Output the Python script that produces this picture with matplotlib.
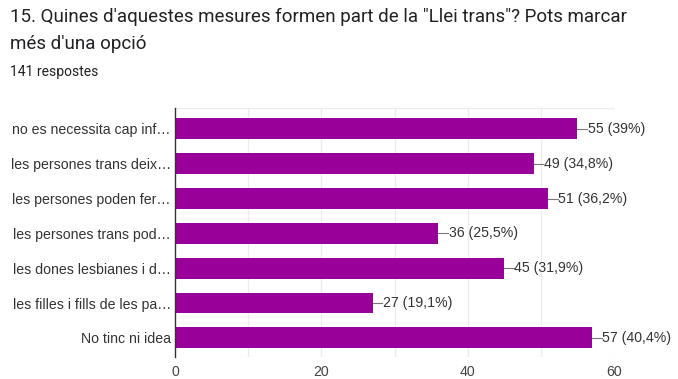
import matplotlib.pyplot as plt

plt.rcParams['font.family'] = ['Liberation Sans', 'DejaVu Sans']

# survey answers, top to bottom
labels = [
    "no es necessita cap inf\u2026",
    "les persones trans deix\u2026",
    "les persones poden fer\u2026",
    "les persones trans pod\u2026",
    "les dones lesbianes i d\u2026",
    "les filles i fills de les pa\u2026",
    "No tinc ni idea",
]
counts = [55, 49, 51, 36, 45, 27, 57]
pcts = ["39%", "34,8%", "36,2%", "25,5%", "31,9%", "19,1%", "40,4%"]
xticks = [0, 20, 40, 60]

bar_color = "#990099"
text_color = "#333333"
head_font = ['Roboto', 'DejaVu Sans']

fig = plt.figure(figsize=(6.78, 3.79), dpi=100)
fig.text(10 / 678, 1 - 22 / 379, "15. Quines d'aquestes mesures formen part de la \"Llei trans\"? Pots marcar",
         fontsize=13.5, color="#202124", va="baseline", ha="left", family=head_font)
fig.text(10 / 678, 1 - 49 / 379, "més d'una opció",
         fontsize=13.5, color="#202124", va="baseline", ha="left", family=head_font)
fig.text(10 / 678, 1 - 76 / 379, "141 respostes",
         fontsize=10, color="#202124", va="baseline", ha="left", family=head_font)

ax = fig.add_axes([175 / 678, 1 - 357 / 379, (614 - 175) / 678, (357 - 108) / 379])
ypos = list(range(len(labels)))
ax.barh(ypos, counts, height=0.6, color=bar_color, zorder=3)

# value labels with a short leader line
for y, c, p in zip(ypos, counts, pcts):
    ax.plot([c, c + 1.3], [y, y], color="#777777", lw=0.8, zorder=3)
    ax.text(c + 1.4, y, f"{c} ({p})", va="center", ha="left",
            fontsize=10.2, color=text_color, zorder=4)

ax.set_ylim(len(labels) - 0.5 + 0.05, -0.6)
ax.set_xlim(0, 60)
ax.set_yticks(ypos)
ax.set_yticklabels(labels, fontsize=10.2, color=text_color)
ax.set_xticks(xticks)
ax.set_xticklabels([str(t) for t in xticks], fontsize=10.2, color="#444444")
for g in range(10, 61, 10):
    ax.axvline(g, color="#ececec", lw=0.9, zorder=1)
ax.axhline(-0.6, color="#ececec", lw=0.9, zorder=1)
ax.axhline(len(labels) - 0.45, color="#ececec", lw=0.9, zorder=1)

for s in ["top", "right", "bottom"]:
    ax.spines[s].set_visible(False)
ax.spines["left"].set_color("#333333")
ax.spines["left"].set_linewidth(1.0)
ax.spines["left"].set_zorder(5)
ax.tick_params(axis="both", length=0, pad=3)
ax.tick_params(axis="x", pad=6)

fig.savefig("out.png", dpi=100)
